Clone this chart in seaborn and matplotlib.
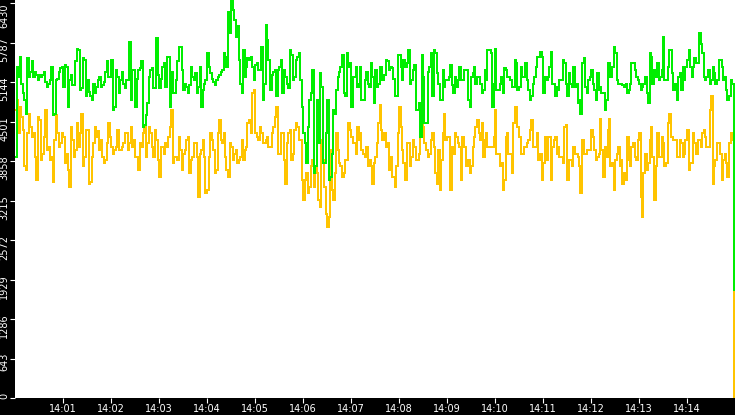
import matplotlib
matplotlib.use("Agg")
import pandas as pd
import seaborn as sns
import matplotlib.pyplot as plt
import matplotlib.dates as mdates
from matplotlib.transforms import ScaledTranslation

# values in four stretches of ~3.75 min each.
# "_on" = readings on a 3.75 s grid, "_mid" = readings half way between them

green_a_on = [3930, 5230, 5120, 4850, 5530, 5310, 5230, 5260, 5260, 5260,
              5150, 5120, 5390, 4630, 5200, 5370, 5070, 5390, 5180, 5100,
              5480, 5670, 5040, 5500, 5180, 4910, 5120, 5070, 5230, 5100,
              5310, 5230, 5500, 4740, 5230, 5180, 5120, 5180, 5800, 5340,
              4740, 5340, 5480, 4440, 4800, 5340, 5040, 5860, 5040, 5390,
              5070, 5560, 5310, 4960, 5480, 5720, 5010, 5070, 5100, 5230]
green_a_mid = [5390, 5560, 4960, 4630, 5230, 5480, 5310, 5180, 5230, 5310,
               5070, 5180, 4610, 5180, 5310, 5390, 5420, 4740, 5260, 5100,
               5690, 5010, 5530, 4910, 4990, 4850, 4960, 5180, 5070, 5150,
               5480, 5230, 4690, 5340, 4960, 5310, 5040, 5180, 4850, 5340,
               5200, 5370, 4420, 4610, 5230, 5370, 5040, 5260, 5200, 5450,
               5560, 4740, 4960, 5180, 5720, 5340, 5120, 4960, 5390, 5180]

green_b_on = [5290, 5070, 4740, 5120, 5610, 5290, 5150, 5180, 5260, 5340,
              5560, 6290, 6470, 6150, 6050, 5120, 5670, 5390, 5500, 5390,
              5420, 5340, 5720, 5120, 5830, 5010, 5310, 4910, 5390, 4960,
              5230, 5040, 5580, 5230, 5560, 5180, 4310, 3820, 4850, 5340,
              3770, 4150, 5070, 3820, 4850, 3600, 4690, 5010, 5310, 5580,
              4910, 5390, 4740, 5230, 5070, 5390, 4850, 5310, 5070, 5230]
green_b_mid = [4960, 5390, 5010, 5180, 5390, 5200, 5100, 5230, 5310, 5610,
               5390, 5940, 6320, 5880, 5500, 4960, 5230, 5530, 5560, 5180,
               5450, 5340, 4850, 6070, 5500, 5260, 5340, 5340, 5500, 5340,
               5120, 5670, 5180, 5500, 5610, 4740, 4150, 4420, 4960, 3660,
               4850, 5290, 3820, 4310, 3550, 3980, 4630, 5230, 5390, 4960,
               5610, 5450, 5230, 5390, 5120, 4850, 5180, 5120, 5450, 4800]

green_c_on = [5340, 5120, 5390, 5260, 5480, 5390, 5200, 4910, 5580, 5180,
              5390, 5670, 5180, 5420, 4690, 4250, 5230, 4470, 5390, 4910,
              5610, 5120, 4850, 5070, 5180, 5420, 4960, 5070, 5390, 5180,
              5340, 4850, 5230, 5390, 5230, 5120, 5010, 5180, 5670, 4740,
              5690, 5010, 5230, 5370, 5230, 5180, 5070, 5450, 5070, 5230,
              5450, 5010, 4910, 5230, 5560, 5640, 4960, 5180, 5390, 5120]
green_c_mid = [5070, 5390, 5180, 5500, 5340, 5370, 4910, 5580, 5390, 5500,
               5450, 5120, 5340, 4690, 4800, 5580, 4470, 5310, 5610, 5670,
               5290, 4850, 5340, 5180, 5230, 5100, 5230, 5180, 5180, 5340,
               5340, 4740, 5290, 5120, 5230, 4960, 5340, 5670, 5610, 5120,
               5010, 5120, 4960, 5340, 5230, 5070, 5500, 5010, 5390, 5230,
               5180, 4850, 5120, 5390, 5560, 5560, 5230, 5230, 5640, 5120]

green_d_on = [4910, 5010, 5180, 5450, 4910, 5120, 5390, 5120, 4850, 5450,
              5070, 5180, 5340, 5010, 5290, 5070, 4960, 4850, 5450, 5390,
              5610, 5120, 5120, 5070, 4960, 5120, 5450, 5230, 5120, 5070,
              5230, 4800, 5560, 5340, 5450, 5230, 5880, 5180, 5670, 5290,
              5120, 5230, 5010, 5180, 5500, 5390, 5390, 5450, 5940, 5610,
              5180, 5340, 5180, 5290, 5180, 5500, 5180, 5010, 4910, 5120]
green_d_mid = [5070, 5180, 5500, 5120, 5290, 5070, 5070, 4800, 4630, 5530,
               4960, 5230, 5120, 4850, 5010, 4960, 4690, 5450, 5230, 5720,
               5180, 5120, 5100, 5120, 5010, 5450, 5340, 5180, 5010, 5120,
               4960, 5610, 5120, 5230, 5180, 5340, 5180, 5390, 5670, 5010,
               4850, 5290, 5390, 5390, 5670, 5230, 5530, 5450, 5770, 5230,
               5230, 5120, 5390, 5120, 5500, 5390, 5230, 4850, 5180, 1760]

yellow_a_on = [4690, 4310, 4580, 3770, 4310, 4420, 4310, 3550, 4530, 3980,
               4690, 4090, 3930, 4200, 4310, 4150, 4250, 3980, 3440, 4200,
               4040, 4090, 4630, 3930, 4360, 3520, 4150, 4250, 4040, 3930,
               3870, 4470, 4090, 4040, 4360, 4040, 4150, 4310, 4150, 4090,
               3930, 3710, 4090, 4420, 4150, 4310, 3930, 4200, 3600, 4090,
               4150, 4250, 4690, 3930, 3870, 4040, 3980, 4200, 3660, 3930]
yellow_a_mid = [4850, 4740, 4360, 3710, 4630, 4250, 3930, 4580, 3870, 4250,
                4040, 3870, 3520, 4610, 4090, 4310, 3820, 3710, 4420, 3930,
                4470, 4310, 3770, 4360, 3490, 3930, 4420, 4340, 4200, 3820,
                4150, 4250, 3980, 4090, 4040, 4090, 4310, 4040, 4420, 4200,
                3930, 4150, 4310, 3930, 4420, 4090, 4360, 3870, 4090, 3980,
                4090, 4420, 3820, 3930, 4250, 3710, 4040, 4250, 3870, 4150]

yellow_b_on = [4150, 3280, 4040, 3930, 3390, 4310, 4040, 3710, 4530, 4150,
               3930, 3600, 4090, 3980, 3820, 3930, 3870, 4090, 4530, 4960,
               4310, 4200, 4310, 4150, 4250, 4090, 4420, 4740, 3980, 4310,
               3490, 4310, 3870, 4360, 4420, 4200, 3220, 3660, 3440, 3870,
               3770, 3220, 4200, 3440, 2790, 4040, 3220, 4310, 3820, 3600,
               3870, 4470, 4250, 4150, 4420, 4310, 3980, 4090, 3870, 3490]
yellow_b_mid = [3930, 3980, 4200, 3330, 3930, 4200, 3660, 4310, 4200, 4310,
                3710, 4150, 3870, 4040, 3870, 4200, 4040, 4470, 4310, 5010,
                4250, 4420, 4150, 4200, 4090, 4310, 4580, 3980, 4310, 3870,
                4150, 4360, 3980, 4470, 4200, 3550, 3550, 3330, 3770, 3440,
                3660, 3110, 3870, 3000, 2950, 3390, 3660, 4040, 3770, 3660,
                3870, 4360, 4150, 3980, 4200, 4040, 3930, 3770, 3770, 3820]

yellow_c_on = [3930, 4470, 4360, 4310, 4150, 3930, 3600, 3770, 4740, 4040,
               3550, 4150, 3930, 4090, 3870, 4630, 4420, 4040, 3980, 4310,
               3660, 4040, 3870, 4630, 4250, 3390, 3980, 4250, 4090, 4250,
               4090, 3870, 3770, 4250, 4530, 4200, 3930, 4310, 4090, 4090,
               4690, 3980, 3820, 3550, 4310, 3980, 4470, 4740, 4250, 3980,
               4090, 4200, 4530, 4090, 4310, 3980, 3820, 3870, 4250, 4090]
yellow_c_mid = [4150, 4770, 4200, 4090, 3710, 3600, 3440, 4310, 4420, 3820,
                4150, 3770, 4200, 3870, 3980, 4720, 4150, 3930, 4200, 4090,
                3490, 3390, 4310, 4200, 4250, 4090, 4310, 4150, 3550, 4090,
                3770, 3660, 4090, 4420, 4310, 4470, 4200, 4090, 4090, 4250,
                3980, 3770, 3390, 4250, 3980, 3660, 4740, 4420, 3980, 4090,
                4150, 4360, 4090, 4090, 3870, 3550, 4250, 4250, 3550, 4200]

yellow_d_on = [4250, 4090, 3930, 4420, 3550, 3870, 4090, 3980, 3770, 4200,
               3980, 4040, 4360, 4040, 3930, 4550, 3600, 3930, 4550, 3820,
               3870, 4090, 3870, 3660, 4250, 3770, 4150, 3870, 4310, 2950,
               3980, 3820, 4420, 3220, 4310, 3930, 4150, 3820, 4630, 4250,
               4200, 3930, 4150, 3980, 4360, 3820, 4310, 3980, 4200, 4310,
               4250, 4090, 4910, 3770, 4150, 3980, 3870, 3820, 4150, 4200]
yellow_d_mid = [3980, 3930, 3820, 4440, 3870, 3770, 3980, 3930, 3330, 3980,
                4040, 4040, 4250, 3870, 3980, 4040, 4090, 4360, 3770, 3390,
                3980, 3770, 3490, 3550, 3870, 4090, 3930, 4200, 3280, 3660,
                3710, 4200, 3930, 3770, 3930, 4250, 3770, 4470, 4250, 4200,
                3930, 4200, 3930, 4200, 3710, 3820, 4150, 4200, 4090, 4360,
                4090, 4690, 3490, 3870, 4150, 3550, 3980, 3600, 4310, 0]

y_ticks = [0, 643, 1286, 1929, 2572, 3215, 3858, 4501, 5144, 5787, 6430]


def weave(on, mid):
    out = []
    for a, b in zip(on, mid):
        out += [a, b]
    return out


green = (weave(green_a_on, green_a_mid) + weave(green_b_on, green_b_mid)
         + weave(green_c_on, green_c_mid) + weave(green_d_on, green_d_mid))
yellow = (weave(yellow_a_on, yellow_a_mid) + weave(yellow_b_on, yellow_b_mid)
          + weave(yellow_c_on, yellow_c_mid) + weave(yellow_d_on, yellow_d_mid))
times = pd.date_range("2024-01-01 14:00:00", periods=len(green), freq="1875ms")
df = pd.DataFrame({"time": times, "green": green, "yellow": yellow})

sns.set_style("white")
plt.rcParams["font.family"] = ["DejaVu Sans"]

fig = plt.figure(figsize=(7.35, 4.15), dpi=100, facecolor="black")
ax = fig.add_axes([15 / 735, 17 / 415, 720 / 735, 398 / 415])
ax.set_facecolor("white")

sns.lineplot(data=df, x="time", y="yellow", ax=ax, color="#ffc400",
             drawstyle="steps-post", lw=1.1, estimator=None, antialiased=False)
sns.lineplot(data=df, x="time", y="green", ax=ax, color="#00ee00",
             drawstyle="steps-post", lw=1.1, estimator=None, antialiased=False)

ax.set_xlim(pd.Timestamp("2024-01-01 14:00:00"), pd.Timestamp("2024-01-01 14:15:00"))
ax.set_ylim(0, 6480)
ax.set_xlabel("")
ax.set_ylabel("")
for s in ax.spines.values():
    s.set_visible(False)

ax.xaxis.set_major_locator(mdates.MinuteLocator(byminute=range(1, 15)))
ax.xaxis.set_major_formatter(mdates.DateFormatter("%H:%M"))
ax.set_yticks(y_ticks)
ax.set_yticklabels([str(v) for v in y_ticks], rotation=90, va="top")
ax.tick_params(axis="both", colors="white", labelsize=7, length=3.6, width=0.8,
               direction="out", left=True, bottom=True)
ax.tick_params(axis="y", pad=0.5)
ax.tick_params(axis="x", pad=0.5)

# nudge the rotated y labels up a little, like the original
off = ScaledTranslation(0, 0.055, fig.dpi_scale_trans)
labels = ax.get_yticklabels()
for lab in labels[:-1]:
    lab.set_transform(lab.get_transform() + off)

fig.savefig("out.png", dpi=100, facecolor="black")
